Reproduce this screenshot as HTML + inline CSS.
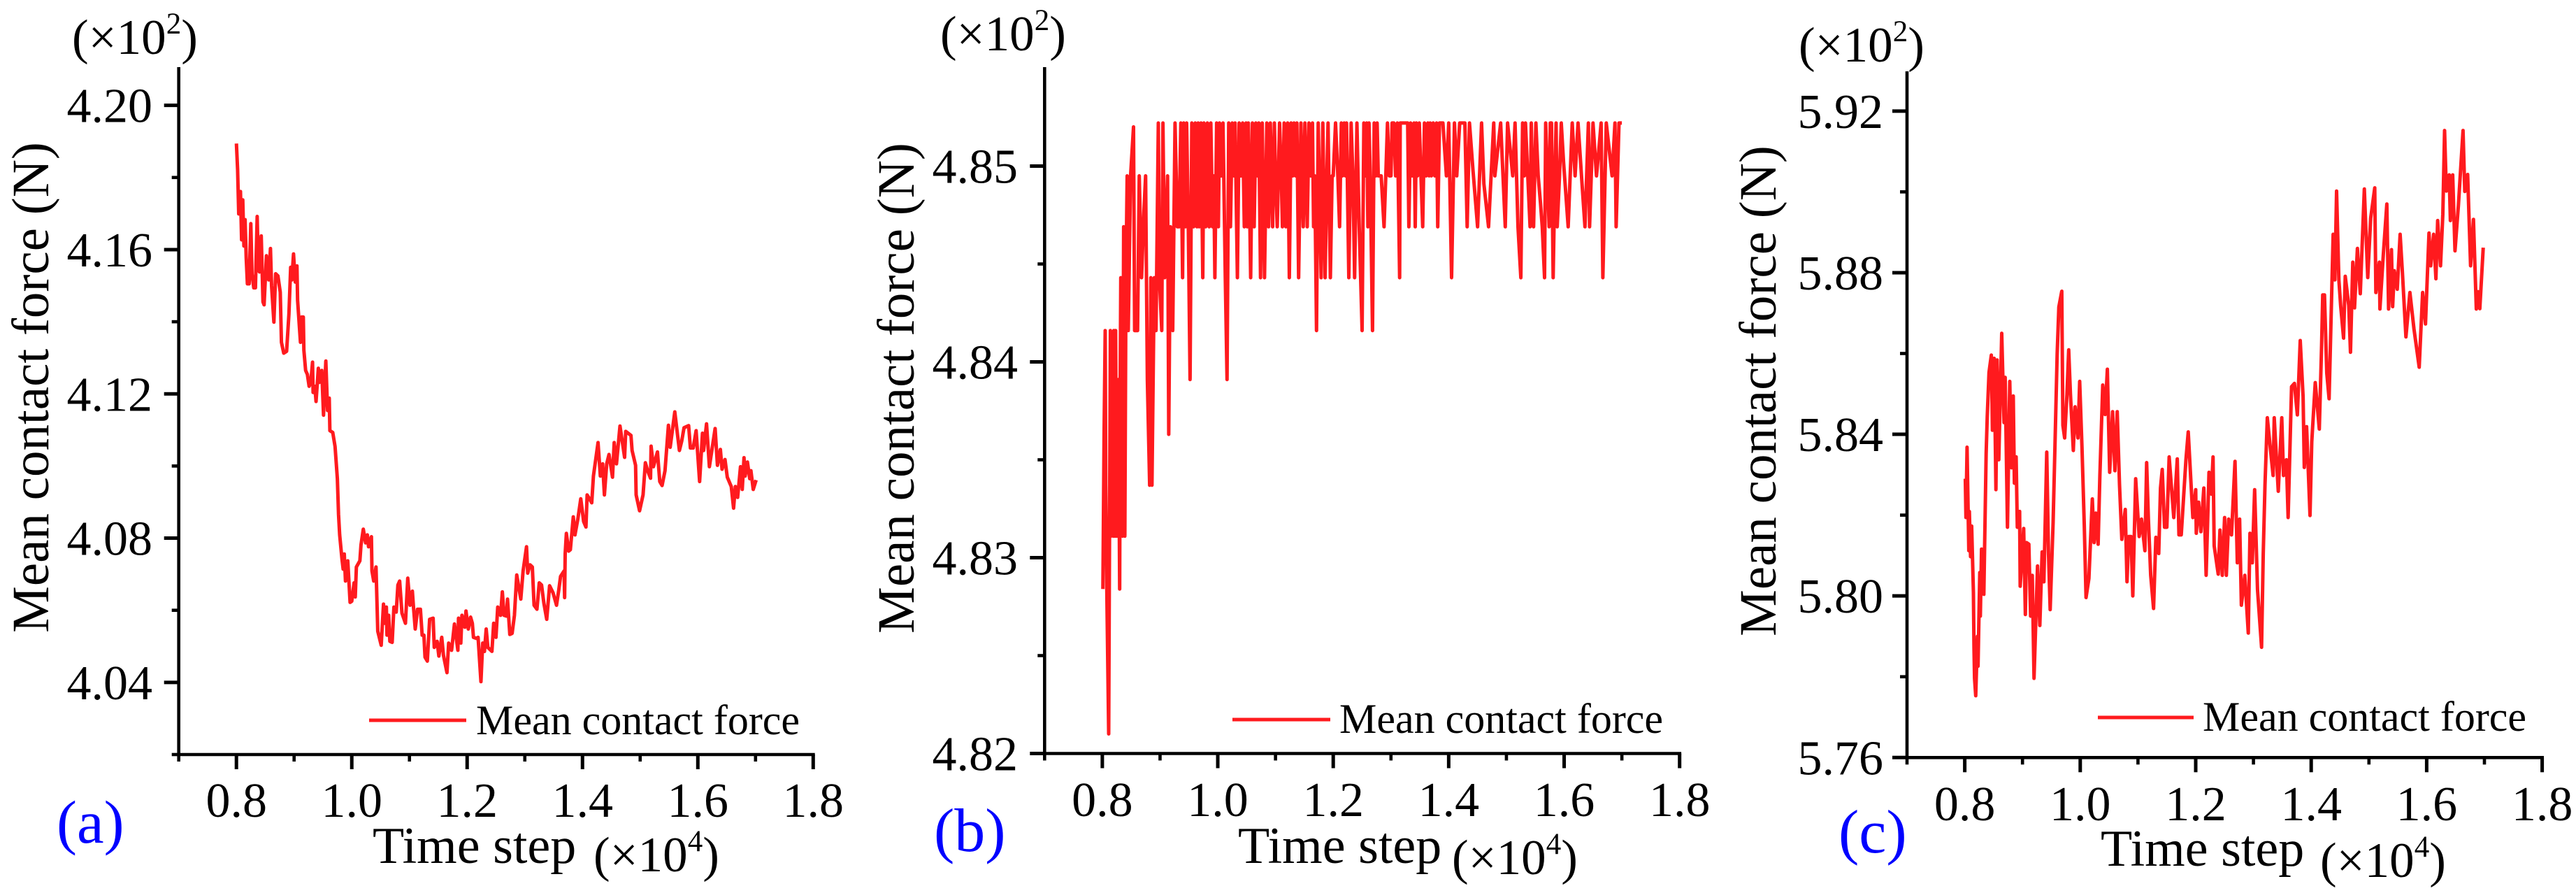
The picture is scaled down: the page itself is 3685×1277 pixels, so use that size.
<!DOCTYPE html>
<html lang="en">
<head>
<meta charset="utf-8">
<title>Mean contact force vs time step</title>
<style>
html,body{margin:0;padding:0;background:#fff;}
svg{display:block;}
text{font-family:"Liberation Serif","Times New Roman",serif;fill:#000;}
.blue{fill:#0000ff;}
</style>
</head>
<body>
<svg id="figure" xmlns="http://www.w3.org/2000/svg" width="3685" height="1277" viewBox="0 0 3685 1277">
<rect width="3685" height="1277" fill="#ffffff"/>

<g id="panel-a">
<text x="103" y="77" font-size="71">(×10<tspan font-size="43" dy="-29">2</tspan><tspan dy="29">)</tspan></text>
<text transform="translate(69 554) rotate(-90)" text-anchor="middle" font-size="75">Mean contact force (N)</text>
<text x="533" y="1234" font-size="74">Time step</text>
<text x="849" y="1246" font-size="71">(×10<tspan font-size="43" dy="-29">4</tspan><tspan dy="29">)</tspan></text>
<text class="blue" x="81" y="1205" font-size="87">(a)</text>
<line x1="528" y1="1030" x2="667" y2="1030" stroke="#ff1a1e" stroke-width="5"/>
<text x="681" y="1050" font-size="60">Mean contact force</text>
</g>

<g id="panel-b">
<text x="1345" y="72" font-size="71">(×10<tspan font-size="43" dy="-29">2</tspan><tspan dy="29">)</tspan></text>
<text transform="translate(1307 555) rotate(-90)" text-anchor="middle" font-size="75">Mean contact force (N)</text>
<text x="1771" y="1234" font-size="74">Time step</text>
<text x="2077" y="1250" font-size="71">(×10<tspan font-size="43" dy="-29">4</tspan><tspan dy="29">)</tspan></text>
<text class="blue" x="1336" y="1217" font-size="88">(b)</text>
<line x1="1763" y1="1029" x2="1903" y2="1029" stroke="#ff1a1e" stroke-width="5"/>
<text x="1916" y="1048" font-size="60">Mean contact force</text>
</g>

<g id="panel-c">
<text x="2573" y="88" font-size="71">(×10<tspan font-size="43" dy="-29">2</tspan><tspan dy="29">)</tspan></text>
<text transform="translate(2540 559) rotate(-90)" text-anchor="middle" font-size="75">Mean contact force (N)</text>
<text x="3005" y="1238" font-size="74">Time step</text>
<text x="3319" y="1254" font-size="71">(×10<tspan font-size="43" dy="-29">4</tspan><tspan dy="29">)</tspan></text>
<text class="blue" x="2630" y="1219" font-size="88">(c)</text>
<line x1="3001" y1="1026" x2="3138" y2="1026" stroke="#ff1a1e" stroke-width="5"/>
<text x="3151" y="1045" font-size="60">Mean contact force</text>
</g>
</svg>

<script>
const xMajorTicks = ["0.8","1.0","1.2","1.4","1.6","1.8"];
const xMinorTicks = [0.7,0.9,1.1,1.3,1.5,1.7];

const yMajorTicksA = ["4.04","4.08","4.12","4.16","4.20"];
const yMinorTicksA = [4.02,4.06,4.10,4.14,4.18];
const yMajorTicksB = ["4.82","4.83","4.84","4.85"];
const yMinorTicksB = [4.825,4.835,4.845];
const yMajorTicksC = ["5.76","5.80","5.84","5.88","5.92"];
const yMinorTicksC = [5.78,5.82,5.86,5.90];

const timeA = [
.800,.802,.804,.807,.809,.811,.813,.815,.817,.819,.822,.825,.827,.830,.833,.836,.838,.840,.843,.846,
.848,.852,.856,.859,.861,.865,.868,.872,.876,.878,.882,.887,.891,.894,.896,.899,.902,.905,.906,.911,
.913,.916,.917,.920,.923,.926,.929,.932,.933,.936,.938,.942,.944,.948,.951,.955,.958,.961,.962,.967,
.971,.975,.977,.979,.983,.985,.987,.989,.993,.997,1.000,1.004,1.006,1.008,1.014,1.016,1.020,1.024,1.027,1.029,
1.034,1.035,1.038,1.042,1.045,1.051,1.055,1.057,1.060,1.061,1.064,1.066,1.070,1.073,1.077,1.080,1.083,1.087,1.093,1.097,
1.101,1.105,1.107,1.110,1.114,1.119,1.122,1.125,1.127,1.131,1.135,1.141,1.143,1.148,1.151,1.156,1.159,1.165,1.168,1.173,
1.178,1.184,1.185,1.189,1.191,1.196,1.198,1.202,1.206,1.209,1.211,1.216,1.219,1.224,1.227,1.230,1.233,1.236,1.243,1.246,
1.250,1.253,1.258,1.261,1.264,1.268,1.270,1.274,1.278,1.282,1.286,1.293,1.297,1.303,1.305,1.309,1.313,1.316,1.321,1.325,
1.329,1.333,1.338,1.343,1.349,1.355,1.359,1.362,1.368,1.369,1.370,1.372,1.376,1.379,1.384,1.387,1.392,1.397,1.402,1.406,
1.408,1.416,1.419,1.427,1.431,1.435,1.438,1.442,1.446,1.452,1.455,1.459,1.465,1.473,1.475,1.484,1.486,1.492,1.493,1.499,
1.505,1.509,1.513,1.518,1.519,1.523,1.530,1.534,1.538,1.543,1.549,1.552,1.560,1.568,1.572,1.576,1.584,1.587,1.592,1.597,
1.603,1.608,1.610,1.615,1.620,1.630,1.634,1.639,1.642,1.647,1.651,1.658,1.662,1.665,1.669,1.674,1.677,1.680,1.682,1.686,
1.690,1.692,1.696,1.701];
const forceA = [
4.1894,4.1822,4.1699,4.1761,4.1627,4.1738,4.1610,4.1683,4.1577,4.1505,4.1505,4.1672,4.1533,4.1494,4.1494,4.1692,4.1544,4.1538,4.1638,4.1455,
4.1447,4.1583,4.1516,4.1603,4.1499,4.1399,4.1533,4.1527,4.1482,4.1343,4.1313,4.1318,4.1421,4.1551,4.1516,4.1588,4.1510,4.1555,4.1460,4.1343,
4.1413,4.1413,4.1321,4.1265,4.1254,4.1221,4.1232,4.1288,4.1204,4.1221,4.1179,4.1271,4.1232,4.1265,4.1141,4.1291,4.1154,4.1188,4.1098,4.1093,
4.1054,4.0965,4.0865,4.0809,4.0742,4.0714,4.0756,4.0681,4.0737,4.0622,4.0625,4.0676,4.0637,4.0720,4.0737,4.0781,4.0825,4.0787,4.0809,4.0776,
4.0804,4.0709,4.0681,4.0720,4.0542,4.0503,4.0617,4.0564,4.0609,4.0531,4.0586,4.0514,4.0511,4.0609,4.0595,4.0670,4.0681,4.0592,4.0564,4.0689,
4.0614,4.0653,4.0609,4.0548,4.0603,4.0603,4.0531,4.0531,4.0470,4.0459,4.0575,4.0578,4.0497,4.0514,4.0473,4.0525,4.0475,4.0427,4.0509,4.0489,
4.0562,4.0489,4.0578,4.0509,4.0586,4.0553,4.0598,4.0548,4.0581,4.0564,4.0525,4.0522,4.0525,4.0402,4.0509,4.0486,4.0548,4.0497,4.0486,4.0564,
4.0525,4.0609,4.0586,4.0651,4.0586,4.0584,4.0631,4.0533,4.0536,4.0586,4.0698,4.0631,4.0709,4.0776,4.0703,4.0726,4.0720,4.0614,4.0603,4.0676,
4.0670,4.0620,4.0575,4.0668,4.0648,4.0614,4.0657,4.0694,4.0709,4.0635,4.0757,4.0813,4.0764,4.0768,4.0859,4.0809,4.0854,4.0909,4.0846,4.0831,
4.0920,4.0898,4.0972,4.1065,4.0972,4.1006,4.0920,4.1006,4.1032,4.0969,4.1065,4.1006,4.1111,4.1024,4.1096,4.1085,4.1043,4.1002,4.0920,4.0876,
4.0920,4.1009,4.0987,4.0966,4.1055,4.0998,4.1039,4.0957,4.0946,4.0987,4.1113,4.1052,4.1150,4.1043,4.1069,4.1106,4.1112,4.1050,4.1050,4.1098,
4.0957,4.1091,4.1043,4.1117,4.0998,4.1104,4.1002,4.1046,4.0991,4.1018,4.0969,4.0943,4.0883,4.0943,4.0913,4.0998,4.0935,4.1023,4.0972,4.1011,
4.0965,4.0987,4.0935,4.0961];

const timeB = [
.801,.803,.805,.806,.808,.811,.814,.815,.817,.819,
.820,.822,.823,.825,.826,.828,.829,.830,.831,.832,
.834,.835,.837,.838,.839,.841,.843,.845,.849,.854,
.856,.861,.864,.868,.872,.875,.878,.882,.884,.886,
.890,.893,.897,.899,.903,.905,.908,.913,.915,.918,
.922,.926,.930,.933,.936,.939,.941,.944,.946,.949,
.952,.955,.958,.961,.964,.966,.968,.971,.974,.976,
.979,.982,.985,.988,.991,.993,.995,.998,1.001,1.003,
1.006,1.009,1.013,1.016,1.019,1.022,1.025,1.028,1.030,1.034,
1.037,1.040,1.043,1.046,1.049,1.051,1.053,1.057,1.060,1.063,
1.066,1.069,1.071,1.074,1.077,1.081,1.085,1.088,1.091,1.095,
1.098,1.100,1.103,1.107,1.110,1.112,1.115,1.118,1.121,1.124,
1.127,1.130,1.132,1.135,1.137,1.140,1.144,1.146,1.148,1.151,
1.153,1.155,1.158,1.161,1.164,1.166,1.168,1.171,1.174,1.179,
1.182,1.186,1.189,1.191,1.195,1.198,1.200,1.204,1.208,1.211,
1.214,1.216,1.219,1.221,1.223,1.227,1.231,1.234,1.237,1.241,
1.243,1.245,1.250,1.253,1.256,1.258,1.260,1.262,1.264,1.268,
1.271,1.274,1.276,1.278,1.283,1.288,1.291,1.294,1.297,1.300,
1.302,1.305,1.308,1.311,1.315,1.316,1.329,1.331,1.334,1.337,
1.340,1.342,1.344,1.346,1.349,1.352,1.355,1.358,1.361,1.364,
1.366,1.368,1.370,1.373,1.376,1.379,1.381,1.384,1.390,1.396,
1.400,1.405,1.410,1.414,1.419,1.428,1.432,1.436,1.442,1.450,
1.457,1.461,1.469,1.478,1.480,1.490,1.498,1.502,1.511,1.515,
1.520,1.525,1.528,1.531,1.533,1.537,1.541,1.543,1.545,1.547,
1.549,1.551,1.555,1.559,1.562,1.566,1.568,1.571,1.574,1.576,
1.578,1.581,1.584,1.586,1.588,1.592,1.595,1.599,1.607,1.614,
1.619,1.624,1.631,1.636,1.642,1.644,1.650,1.656,1.660,1.664,
1.667,1.673,1.683,1.688,1.690,1.695,1.700];
const forceB = [
4.8284,4.8363,4.8416,4.8337,4.8278,4.8210,4.8416,4.8311,4.8337,4.8311,
4.8416,4.8311,4.8416,4.8311,4.8337,4.8391,4.8337,4.8284,4.8391,4.8443,
4.8337,4.8311,4.8469,4.8337,4.8311,4.8443,4.8495,4.8416,4.8495,4.8520,
4.8416,4.8416,4.8495,4.8443,4.8476,4.8495,4.8391,4.8337,4.8443,4.8337,
4.8443,4.8416,4.8522,4.8443,4.8416,4.8522,4.8443,4.8495,4.8363,4.8469,
4.8416,4.8522,4.8469,4.8469,4.8522,4.8443,4.8522,4.8469,4.8522,4.8469,
4.8391,4.8522,4.8469,4.8522,4.8469,4.8522,4.8469,4.8522,4.8443,4.8522,
4.8469,4.8522,4.8469,4.8522,4.8469,4.8495,4.8443,4.8522,4.8469,4.8522,
4.8495,4.8522,4.8443,4.8391,4.8522,4.8469,4.8522,4.8495,4.8522,4.8443,
4.8522,4.8495,4.8522,4.8469,4.8522,4.8469,4.8522,4.8443,4.8522,4.8469,
4.8522,4.8495,4.8522,4.8443,4.8522,4.8443,4.8522,4.8469,4.8522,4.8469,
4.8522,4.8495,4.8469,4.8522,4.8495,4.8469,4.8522,4.8469,4.8522,4.8443,
4.8522,4.8495,4.8522,4.8495,4.8522,4.8443,4.8522,4.8495,4.8469,4.8522,
4.8495,4.8469,4.8522,4.8495,4.8522,4.8469,4.8495,4.8416,4.8522,4.8443,
4.8522,4.8443,4.8495,4.8522,4.8443,4.8495,4.8495,4.8522,4.8495,4.8469,
4.8522,4.8495,4.8522,4.8495,4.8522,4.8443,4.8522,4.8495,4.8443,4.8522,
4.8495,4.8469,4.8416,4.8522,4.8495,4.8522,4.8469,4.8522,4.8495,4.8416,
4.8522,4.8495,4.8522,4.8495,4.8495,4.8469,4.8495,4.8522,4.8495,4.8495,
4.8522,4.8522,4.8495,4.8522,4.8443,4.8522,4.8522,4.8469,4.8522,4.8495,
4.8522,4.8469,4.8522,4.8495,4.8522,4.8495,4.8469,4.8522,4.8495,4.8522,
4.8495,4.8522,4.8495,4.8522,4.8495,4.8522,4.8469,4.8522,4.8522,4.8495,
4.8522,4.8443,4.8522,4.8495,4.8522,4.8522,4.8469,4.8522,4.8498,4.8469,
4.8522,4.8491,4.8469,4.8522,4.8495,4.8522,4.8469,4.8522,4.8495,4.8522,
4.8469,4.8443,4.8522,4.8495,4.8522,4.8495,4.8469,4.8522,4.8495,4.8469,
4.8495,4.8522,4.8495,4.8481,4.8469,4.8443,4.8522,4.8495,4.8469,4.8522,
4.8522,4.8443,4.8495,4.8522,4.8469,4.8495,4.8522,4.8502,4.8469,4.8522,
4.8495,4.8522,4.8491,4.8469,4.8522,4.8469,4.8522,4.8495,4.8508,4.8522,
4.8443,4.8522,4.8495,4.8522,4.8469,4.8522,4.8522];

const timeC = [
.801,.802,.804,.807,.808,.810,.812,.815,.816,.817,.819,.822,.823,.826,.827,.829,.833,.837,.839,.842,
.846,.848,.851,.854,.856,.859,.864,.868,.870,.874,.878,.881,.884,.886,.889,.891,.895,.896,.902,.905,
.907,.911,.914,.917,.920,.926,.930,.934,.937,.942,.945,.948,.953,.956,.960,.963,.968,.970,.973,.977,
.980,.983,.988,.991,.996,.999,1.003,1.007,1.010,1.015,1.021,1.024,1.027,1.031,1.034,1.039,1.043,1.047,1.051,1.056,
1.060,1.064,1.068,1.072,1.078,1.081,1.084,1.088,1.091,1.096,1.102,1.106,1.112,1.115,1.118,1.122,1.127,1.131,1.136,1.139,
1.142,1.146,1.150,1.154,1.162,1.168,1.171,1.175,1.183,1.187,1.195,1.200,1.201,1.205,1.209,1.214,1.218,1.223,1.227,1.230,
1.232,1.239,1.242,1.246,1.250,1.253,1.257,1.262,1.268,1.272,1.276,1.279,1.285,1.291,1.294,1.298,1.302,1.307,1.314,1.317,
1.320,1.324,1.334,1.336,1.343,1.349,1.352,1.357,1.360,1.366,1.371,1.376,1.381,1.386,1.388,1.392,1.398,1.401,1.407,1.414,
1.418,1.420,1.423,1.427,1.431,1.435,1.438,1.441,1.444,1.448,1.451,1.456,1.459,1.465,1.468,1.472,1.475,1.480,1.485,1.492,
1.498,1.503,1.510,1.512,1.518,1.519,1.525,1.531,1.534,1.539,1.541,1.544,1.549,1.554,1.558,1.564,1.571,1.578,1.587,1.593,
1.598,1.604,1.607,1.612,1.616,1.619,1.624,1.628,1.631,1.634,1.639,1.641,1.645,1.649,1.655,1.663,1.666,1.671,1.676,1.681,
1.686,1.689,1.692,1.698];
const forceC = [
5.8290,5.8194,5.8368,5.8112,5.8209,5.8097,5.8173,5.8008,5.7873,5.7796,5.7753,5.7900,5.7826,5.8058,5.7950,5.8116,5.8004,5.8352,5.8445,5.8553,
5.8596,5.8410,5.8588,5.8263,5.8584,5.8337,5.8650,5.8429,5.8541,5.8170,5.8531,5.8317,5.8495,5.8279,5.8344,5.8170,5.8209,5.8024,5.8167,5.7954,
5.8132,5.8128,5.7950,5.8051,5.7796,5.8074,5.7927,5.8109,5.8035,5.8356,5.8105,5.7966,5.8182,5.8360,5.8599,5.8715,5.8754,5.8422,5.8391,5.8499,
5.8609,5.8499,5.8360,5.8468,5.8391,5.8531,5.8368,5.8174,5.7996,5.8043,5.8240,5.8132,5.8205,5.8128,5.8298,5.8522,5.8449,5.8561,5.8306,5.8456,
5.8310,5.8456,5.8275,5.8140,5.8214,5.8035,5.8147,5.8147,5.8000,5.8290,5.8147,5.8190,5.8112,5.8330,5.8190,5.8051,5.7969,5.8145,5.8105,5.8267,
5.8313,5.8170,5.8170,5.8344,5.8194,5.8339,5.8151,5.8151,5.8337,5.8406,5.8194,5.8263,5.8155,5.8232,5.8159,5.8267,5.8051,5.8306,5.8252,5.8344,
5.8124,5.8054,5.8163,5.8051,5.8194,5.8051,5.8190,5.8151,5.8333,5.8082,5.8190,5.7977,5.8051,5.7908,5.8155,5.8082,5.8263,5.8016,5.7873,5.8105,
5.8275,5.8441,5.8298,5.8441,5.8259,5.8441,5.8298,5.8337,5.8194,5.8518,5.8526,5.8448,5.8632,5.8494,5.8318,5.8419,5.8199,5.8381,5.8528,5.8413,
5.8621,5.8745,5.8745,5.8551,5.8488,5.8719,5.8895,5.8782,5.9002,5.8782,5.8719,5.8638,5.8791,5.8719,5.8603,5.8826,5.8713,5.8860,5.8748,5.9007,
5.8788,5.8935,5.9010,5.8751,5.8826,5.8710,5.8846,5.8970,5.8710,5.8857,5.8716,5.8805,5.8759,5.8895,5.8800,5.8641,5.8751,5.8661,5.8566,5.8751,
5.8673,5.8898,5.8817,5.8895,5.8785,5.8929,5.8817,5.8944,5.9152,5.9002,5.9042,5.8929,5.9042,5.8854,5.8967,5.9152,5.9001,5.9043,5.8817,5.8932,
5.8710,5.8753,5.8711,5.8862];

const SVG_NS = "http://www.w3.org/2000/svg";
const AXIS_COLOR = "#000000";
const LINE_COLOR = "#ff1a1e";

function makeLine(parent, x1, y1, x2, y2, width) {
  const el = document.createElementNS(SVG_NS, "line");
  el.setAttribute("x1", x1);
  el.setAttribute("y1", y1);
  el.setAttribute("x2", x2);
  el.setAttribute("y2", y2);
  el.setAttribute("stroke", AXIS_COLOR);
  el.setAttribute("stroke-width", width);
  parent.appendChild(el);
  return el;
}

function makeText(parent, x, y, anchor, size, content) {
  const el = document.createElementNS(SVG_NS, "text");
  el.setAttribute("x", x);
  el.setAttribute("y", y);
  el.setAttribute("text-anchor", anchor);
  el.setAttribute("font-size", size);
  el.textContent = content;
  parent.appendChild(el);
  return el;
}

function drawPanel(panelId, box, times, forces, yMajor, yMinor) {
  const group = document.getElementById(panelId);
  const xAxis = (t) => box.left + (t - 0.7) / 1.1 * (box.right - box.left);
  const yAxis = (v) => box.bottom - (v - box.vBottom) * box.pxPerUnit;

  const yLine = makeLine(group, box.left, box.top, box.left, box.bottom + 2, 4.6);
  
  
  const xLine = makeLine(group, box.left, box.bottom, box.right + 2.4, box.bottom, 4.6);
  
  

  xMajorTicks.forEach((label) => {
    const px = xAxis(parseFloat(label));
    const tick = makeLine(group, px, box.bottom, px, box.bottom + 21, 5);
    
    
    const txt = makeText(group, px, box.labelY, "middle", 70, label);
    
    
  });
  xMinorTicks.forEach((value) => {
    const px = xAxis(value);
    const tick = makeLine(group, px, box.bottom, px, box.bottom + 10, 4.6);
    
    
  });
  yMajor.forEach((label) => {
    const py = yAxis(parseFloat(label));
    const tick = makeLine(group, box.left - 21, py, box.left, py, 5);
    
    
    const txt = makeText(group, box.labelRight, py + 24, "end", 70, label);
    
    
  });
  yMinor.forEach((value) => {
    const py = yAxis(value);
    const tick = makeLine(group, box.left - 10, py, box.left, py, 4.6);
    
    
  });

  const count = Math.min(times.length, forces.length);
  const pts = [];
  for (let i = 0; i < count; i++) {
    pts.push(xAxis(times[i]).toFixed(1) + "," + yAxis(forces[i]).toFixed(1));
  }
  const series = document.createElementNS(SVG_NS, "polyline");
  series.setAttribute("points", pts.join(" "));
  series.setAttribute("fill", "none");
  series.setAttribute("stroke", LINE_COLOR);
  series.setAttribute("stroke-width", "5");
  series.setAttribute("stroke-linejoin", "round");
  
  
  group.appendChild(series);
}

drawPanel("panel-a",
  {left:255.7, right:1163.3, top:96, bottom:1079, vBottom:4.02, pxPerUnit:5157.5, labelY:1168, labelRight:218},
  timeA, forceA, yMajorTicksA, yMinorTicksA);
drawPanel("panel-b",
  {left:1494.3, right:2402.7, top:96, bottom:1077.5, vBottom:4.82, pxPerUnit:28000, labelY:1167, labelRight:1456},
  timeB, forceB, yMajorTicksB, yMinorTicksB);
drawPanel("panel-c",
  {left:2728, right:3636.6, top:102, bottom:1083.3, vBottom:5.76, pxPerUnit:5778, labelY:1173, labelRight:2694},
  timeC, forceC, yMajorTicksC, yMinorTicksC);
</script>
</body>
</html>
